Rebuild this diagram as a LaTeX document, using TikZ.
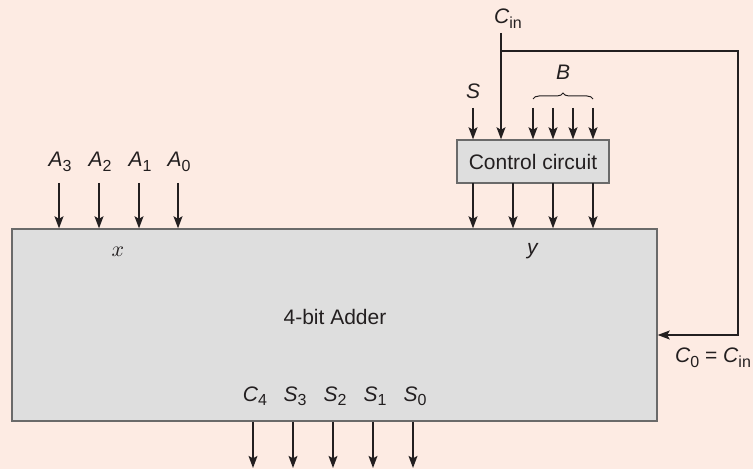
\documentclass[tikz,border=0pt]{standalone}
\usepackage{fontspec}
\setmainfont{Liberation Sans}
\usetikzlibrary{arrows.meta, positioning, decorations.pathreplacing, calc}

\definecolor{bgpeach}{HTML}{FDEBE3}
\definecolor{boxgray}{HTML}{DEDEDE}
\definecolor{edgegray}{HTML}{6A6A6A}
\definecolor{inkgray}{HTML}{231F20}

\newcommand{\vn}[2]{\textit{#1}\raisebox{-0.45ex}{\fontsize{8}{9}\selectfont #2}}

\tikzset{
  blk/.style={draw=edgegray, line width=0.6pt, fill=boxgray, inner sep=0pt},
  sig/.style={line width=1pt, draw=inkgray, -{Stealth[length=6pt, width=4.4pt, inset=1.2pt]}},
  lbl/.style={anchor=base, inner sep=0pt, text=inkgray},
}

\begin{document}
\begin{tikzpicture}[x=0.5pt, y=-0.5pt, font=\fontsize{10.5}{12.6}\selectfont]
  \fill[bgpeach] (0,0) rectangle (753,469);
  \useasboundingbox (0,0) rectangle (753,469);

  % the two blocks
  \node[blk, minimum width=322.5pt, minimum height=96pt] (adder) at (334.5,325) {};
  \node[lbl] (addname) at (335,325) {4-bit Adder};
  \node[blk, text=inkgray, minimum width=76pt, minimum height=21.5pt] (ctrl) at (533,161.5) {Control circuit};

  % x inputs
  \foreach \i/\xx in {3/59, 2/99, 1/139, 0/178} {
    \node[lbl] (a\i) at (\xx+1,167) {\vn{A}{\i}};
    \coordinate (ain\i) at (\xx,183);
    \draw[sig] (ain\i) -- (ain\i |- adder.north);
  }
  \node[lbl] (xname) at (118,257) {$x$};
  \node[lbl] (yname) at (533,255) {\textit{y}};

  % inputs of the control circuit
  \node[lbl] (sname) at (473,99) {\textit{S}};
  \coordinate (sin) at (473,108);
  \draw[sig] (sin) -- (sin |- ctrl.north);

  \node[lbl] (cname) at (508,24) {\vn{C}{in}};
  \coordinate (cin) at (501,33);
  \coordinate (turn) at (738,51);
  \coordinate (back) at (738,335);
  \draw[sig] (cin) -- (cin |- ctrl.north);
  \draw[sig] (cin |- turn) -- (turn) -- (back) -- (back -| adder.east);
  \node[lbl] (c0name) at (713,363) {\vn{C}{0} = \vn{C}{in}};

  \foreach \n/\xx in {3/533, 2/553, 1/573, 0/593} {
    \coordinate (b\n) at (\xx,108);
    \draw[sig] (b\n) -- (b\n |- ctrl.north);
  }
  \draw[decorate, decoration={brace, amplitude=3pt}, line width=0.5pt, draw=inkgray]
    ($(b3)+(0,-9)$) -- ($(b0)+(0,-9)$);
  \node[lbl] (bname) at (563,80) {\textit{B}};

  % control circuit to adder
  \foreach \n/\xx in {3/473, 2/513, 1/553, 0/593} {
    \coordinate (y\n) at (\xx,183);
    \draw[sig] (y\n) -- (y\n |- adder.north);
  }

  % outputs
  \foreach \n/\txt/\xx in {c4/\vn{C}{4}/253, s3/\vn{S}{3}/293, s2/\vn{S}{2}/333,
                           s1/\vn{S}{1}/373, s0/\vn{S}{0}/413} {
    \node[lbl] (\n) at (\xx+2,401) {\txt};
    \coordinate (\n out) at (\xx,468);
    \draw[sig] (\n out |- adder.south) -- (\n out);
  }
\end{tikzpicture}
\end{document}
